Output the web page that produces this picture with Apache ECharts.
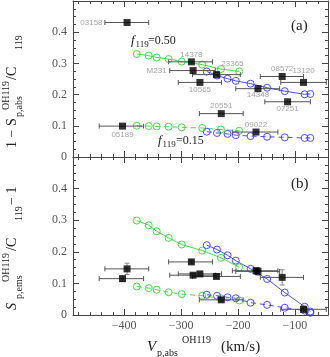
<!DOCTYPE html>
<html>
<head>
<meta charset="utf-8">
<script src="https://cdn.jsdelivr.net/npm/echarts@6/dist/echarts.min.js"></script>
<style>
html, body { margin: 0; padding: 0; background: #fff; }
#chart { width: 330px; height: 357px; }
</style>
</head>
<body>
<div id="chart"></div>
<script>
// sources (same order in both panels)
var names    = ['03158', '05189', '14378', 'M231', '23365', '10565', '08572', '13120', '14348', '07251', '20551', '09022'];
var velAbs   = [-395, -403, -282, -279, -238, -267, -122.5, -85, -165, -113, -229.5, -168.5];
var velLo    = [-434, -444, -322, -320, -280, -305, -161, -125, -204, -153, -268, -210];
var velHi    = [-357, -366, -245, -240, -196, -229, -85, -45, -127, -73, -191, -130];
var absDepth = [0.431, 0.099, 0.305, 0.277, 0.264, 0.239, 0.258, 0.239, 0.219, 0.177, 0.139, 0.080];  // panel (a)
var emsPeak  = [0.146, 0.115, 0.168, 0.126, 0.122, 0.130, 0.119, 0.018, 0.138, null, 0.048, 0.140];    // panel (b)
var emsErr   = [0.018, 0.008, 0.006, 0.006, 0.006, 0.006, 0.024, 0.010, 0.012, 0, 0.006, 0.010];

// model tracks
var greenVel   = [-378, -357, -343, -322, -299, -263, -230, -198];
var greenAbs50 = [0.330, 0.325, 0.319, 0.314, 0.306, 0.296, 0.282, 0.274];
var greenAbs15 = [0.100, 0.099, 0.098, 0.097, 0.095, 0.093, 0.088, 0.084];
var greenEms50 = [0.299, 0.284, 0.265, 0.244, 0.223, 0.204, 0.181, 0.151];
var greenEms15 = [0.090, 0.085, 0.080, 0.072, 0.066, 0.061, 0.053, 0.046];
var blueVel    = [-255, -237, -218.5, -204, -178, -149, -118, -83, -73];
var blueAbs50  = [0.274, 0.261, 0.251, 0.244, 0.235, 0.222, 0.211, 0.201, 0.202];
var blueAbs15  = [0.081, 0.077, 0.074, 0.070, 0.067, 0.065, 0.063, 0.061, 0.061];
var blueEms50  = [0.221, 0.207, 0.189, 0.172, 0.146, 0.114, 0.071, 0.026, 0.011];
var blueEms15  = [0.064, 0.061, 0.056, 0.053, 0.039, 0.032, 0.023, 0.014, 0.007];

var xMajor = [-400, -300, -200, -100];
var xMinor = [-480, -460, -440, -420, -380, -360, -340, -320, -280, -260, -240, -220, -180, -160, -140, -120, -80, -60];

var GREEN = '#33d633';
var BLUE = '#3b3bff';
var AX = '#444';
var SERIF = '"Liberation Serif", "DejaVu Serif", serif';

// where the source names sit in panel (a)
var labelPlace = {
    '03158': { position: 'left', distance: 21 },
    '05189': { position: 'bottom', distance: 1 },
    '14378': { position: 'top', distance: 0 },
    'M231':  { position: 'left', distance: 23 },
    '23365': { position: 'top', distance: 3, offset: [16, 0] },
    '10565': { position: 'bottom', distance: 0 },
    '08572': { position: 'top', distance: 0 },
    '13120': { position: 'top', distance: 4 },
    '14348': { position: 'bottom', distance: -1 },
    '07251': { position: 'bottom', distance: 0 },
    '20551': { position: 'top', distance: 0 },
    '09022': { position: 'top', distance: 0 }
};

function zip(xs, ys) {
    var out = [];
    for (var i = 0; i < xs.length; i++) out.push([xs[i], ys[i]]);
    return out;
}

function xAxes(g) {
    var base = { type: 'value', gridIndex: g, min: -490, max: -42, splitLine: { show: false } };
    var showLab = g === 1;
    return [
        Object.assign({}, base, {
            position: 'bottom',
            axisLine: { show: true, lineStyle: { color: AX, width: 1 } },
            axisTick: { show: true, inside: true, length: 6, customValues: xMajor, lineStyle: { color: AX } },
            axisLabel: {
                show: showLab, customValues: xMajor, margin: 5,
                color: '#555', fontFamily: SERIF, fontSize: 12,
                formatter: function (v) { return String(v).replace('-', '\u2212'); }
            }
        }),
        Object.assign({}, base, {
            position: 'bottom',
            axisLine: { show: false },
            axisTick: { show: true, inside: true, length: 3, customValues: xMinor, lineStyle: { color: AX } },
            axisLabel: { show: false }
        }),
        Object.assign({}, base, {
            position: 'top',
            axisLine: { show: true, lineStyle: { color: AX, width: 1 } },
            axisTick: { show: true, inside: true, length: 6, customValues: xMajor, lineStyle: { color: AX } },
            axisLabel: { show: false }
        }),
        Object.assign({}, base, {
            position: 'top',
            axisLine: { show: false },
            axisTick: { show: true, inside: true, length: 3, customValues: xMinor, lineStyle: { color: AX } },
            axisLabel: { show: false }
        })
    ];
}

function yAxes(g) {
    var base = {
        type: 'value', gridIndex: g, min: 0, max: 0.5, interval: 0.1,
        splitLine: { show: false },
        axisLine: { show: true, lineStyle: { color: AX, width: 1 } },
        axisTick: { show: true, inside: true, length: 6, lineStyle: { color: AX } },
        minorTick: { show: true, splitNumber: 4, length: 3, lineStyle: { color: AX } }
    };
    return [
        Object.assign({}, base, {
            position: 'left',
            axisLabel: {
                show: true, margin: 6, color: '#555', fontFamily: SERIF, fontSize: 12,
                formatter: function (v) { return v >= 0.5 ? '' : String(+v.toFixed(1)); }
            }
        }),
        Object.assign({}, base, { position: 'right', axisLabel: { show: false } })
    ];
}

function track(g, xs, ys, color, dashed) {
    return {
        type: 'line', xAxisIndex: g * 4, yAxisIndex: g * 2,
        data: zip(xs, ys),
        symbol: 'circle', symbolSize: 7, showAllSymbol: true,
        lineStyle: { color: color, width: 0.9, type: dashed ? [5, 4] : 'solid' },
        itemStyle: { color: 'rgba(0,0,0,0)', borderColor: color, borderWidth: 0.9 },
        emphasis: { disabled: true },
        z: 2, silent: true
    };
}

function errRender(params, api) {
    var x = api.value(0), y = api.value(1);
    var p0 = api.coord([api.value(2), y]);
    var p1 = api.coord([api.value(3), y]);
    var st = { stroke: '#555', lineWidth: 1 };
    var c = 2.5;
    var kids = [
        { type: 'line', shape: { x1: p0[0], y1: p0[1], x2: p1[0], y2: p1[1] }, style: st },
        { type: 'line', shape: { x1: p0[0], y1: p0[1] - c, x2: p0[0], y2: p0[1] + c }, style: st },
        { type: 'line', shape: { x1: p1[0], y1: p1[1] - c, x2: p1[0], y2: p1[1] + c }, style: st }
    ];
    var ye = api.value(4);
    if (ye > 0) {
        var a = api.coord([x, y - ye]);
        var b = api.coord([x, y + ye]);
        var vs = { stroke: '#888', lineWidth: 1 };
        kids.push({ type: 'line', shape: { x1: a[0], y1: a[1], x2: b[0], y2: b[1] }, style: vs });
        kids.push({ type: 'line', shape: { x1: a[0] - c, y1: a[1], x2: a[0] + c, y2: a[1] }, style: vs });
        kids.push({ type: 'line', shape: { x1: b[0] - c, y1: b[1], x2: b[0] + c, y2: b[1] }, style: vs });
    }
    return { type: 'group', children: kids };
}

function sourceSeries(g, ys, yerr, withLabels) {
    var err = [], pts = [];
    for (var i = 0; i < names.length; i++) {
        if (ys[i] == null) continue;
        err.push([velAbs[i], ys[i], velLo[i], velHi[i], yerr ? yerr[i] : 0]);
        var item = { name: names[i], value: [velAbs[i], ys[i]] };
        if (withLabels) {
            var lp = labelPlace[names[i]];
            item.label = Object.assign({
                show: true, formatter: '{b}', color: '#8c8c8c',
                fontFamily: '"Liberation Sans", Arial, sans-serif', fontSize: 8
            }, lp);
        }
        pts.push(item);
    }
    return [
        {
            type: 'custom', xAxisIndex: g * 4, yAxisIndex: g * 2,
            renderItem: errRender, data: err,
            encode: { x: [0, 2, 3], y: 1 }, z: 3, silent: true
        },
        {
            type: 'scatter', xAxisIndex: g * 4, yAxisIndex: g * 2,
            data: pts, symbol: 'rect', symbolSize: 7,
            itemStyle: { color: '#000' }, z: 4, silent: true
        }
    ];
}

function txt(x, y, s, font, opts) {
    return Object.assign({
        type: 'text', x: x, y: y, silent: true,
        style: { text: s, font: font, fill: '#222', align: 'left', verticalAlign: 'middle' }
    }, opts || {});
}
function vtxt(x, y, s, font) {
    return txt(x, y, s, font, { rotation: Math.PI / 2 });
}

var f13i = 'italic 13px ' + SERIF;
var f14 = '14px ' + SERIF, f14i = 'italic 14px ' + SERIF;
var f10 = '10px ' + SERIF, f9 = '9px ' + SERIF, f12 = '12px ' + SERIF;
var f15 = '15px ' + SERIF, f15i = 'italic 15px ' + SERIF;

var graphics = [
    // panel tags
    txt(291, 26, '(a)', f15),
    txt(291, 184, '(b)', f15),
    // model annotations
    txt(131, 41, 'f', f13i), txt(135.5, 45, '119', f9), txt(148, 41, '=0.50', f12),
    txt(158, 141, 'f', f13i), txt(162.5, 145, '119', f9), txt(176, 141, '=0.15', f12),
    // x title
    txt(147, 347, 'V', f15i), txt(157, 353, 'p,abs', f10), txt(182, 340, 'OH119', f10), txt(221, 347, '(km/s)', f15),
    // y title, panel (a)
    vtxt(12.5, 148, '1 \u2212 S', f14), vtxt(19, 117, 'p,abs', f10), vtxt(6, 110, 'OH119', f10),
    vtxt(12.5, 80, '/C', f14), vtxt(19, 50, '119', f10),
    // y title, panel (b)
    vtxt(12.5, 310, 'S', f14i), vtxt(19, 299, 'p,ems', f10), vtxt(6, 282, 'OH119', f10),
    vtxt(12.5, 251, '/C', f14), vtxt(19, 221, '119', f10), vtxt(12.5, 205, '\u2212 1', f14)
];

var series = [
    track(0, greenVel, greenAbs50, GREEN, false),
    track(0, greenVel, greenAbs15, GREEN, true),
    track(0, blueVel, blueAbs50, BLUE, false),
    track(0, blueVel, blueAbs15, BLUE, true),
    track(1, greenVel, greenEms50, GREEN, false),
    track(1, greenVel, greenEms15, GREEN, true),
    track(1, blueVel, blueEms50, BLUE, false),
    track(1, blueVel, blueEms15, BLUE, true)
].concat(sourceSeries(0, absDepth, null, true))
 .concat(sourceSeries(1, emsPeak, emsErr, false));

var chart = echarts.init(document.getElementById('chart'), null, { renderer: 'canvas' });
chart.setOption({
    animation: false,
    backgroundColor: '#fff',
    grid: [
        { left: 73, right: 2, top: 1, height: 156 },
        { left: 73, right: 2, top: 157, height: 158 }
    ],
    xAxis: xAxes(0).concat(xAxes(1)),
    yAxis: yAxes(0).concat(yAxes(1)),
    series: series,
    graphic: graphics
});
</script>
</body>
</html>
